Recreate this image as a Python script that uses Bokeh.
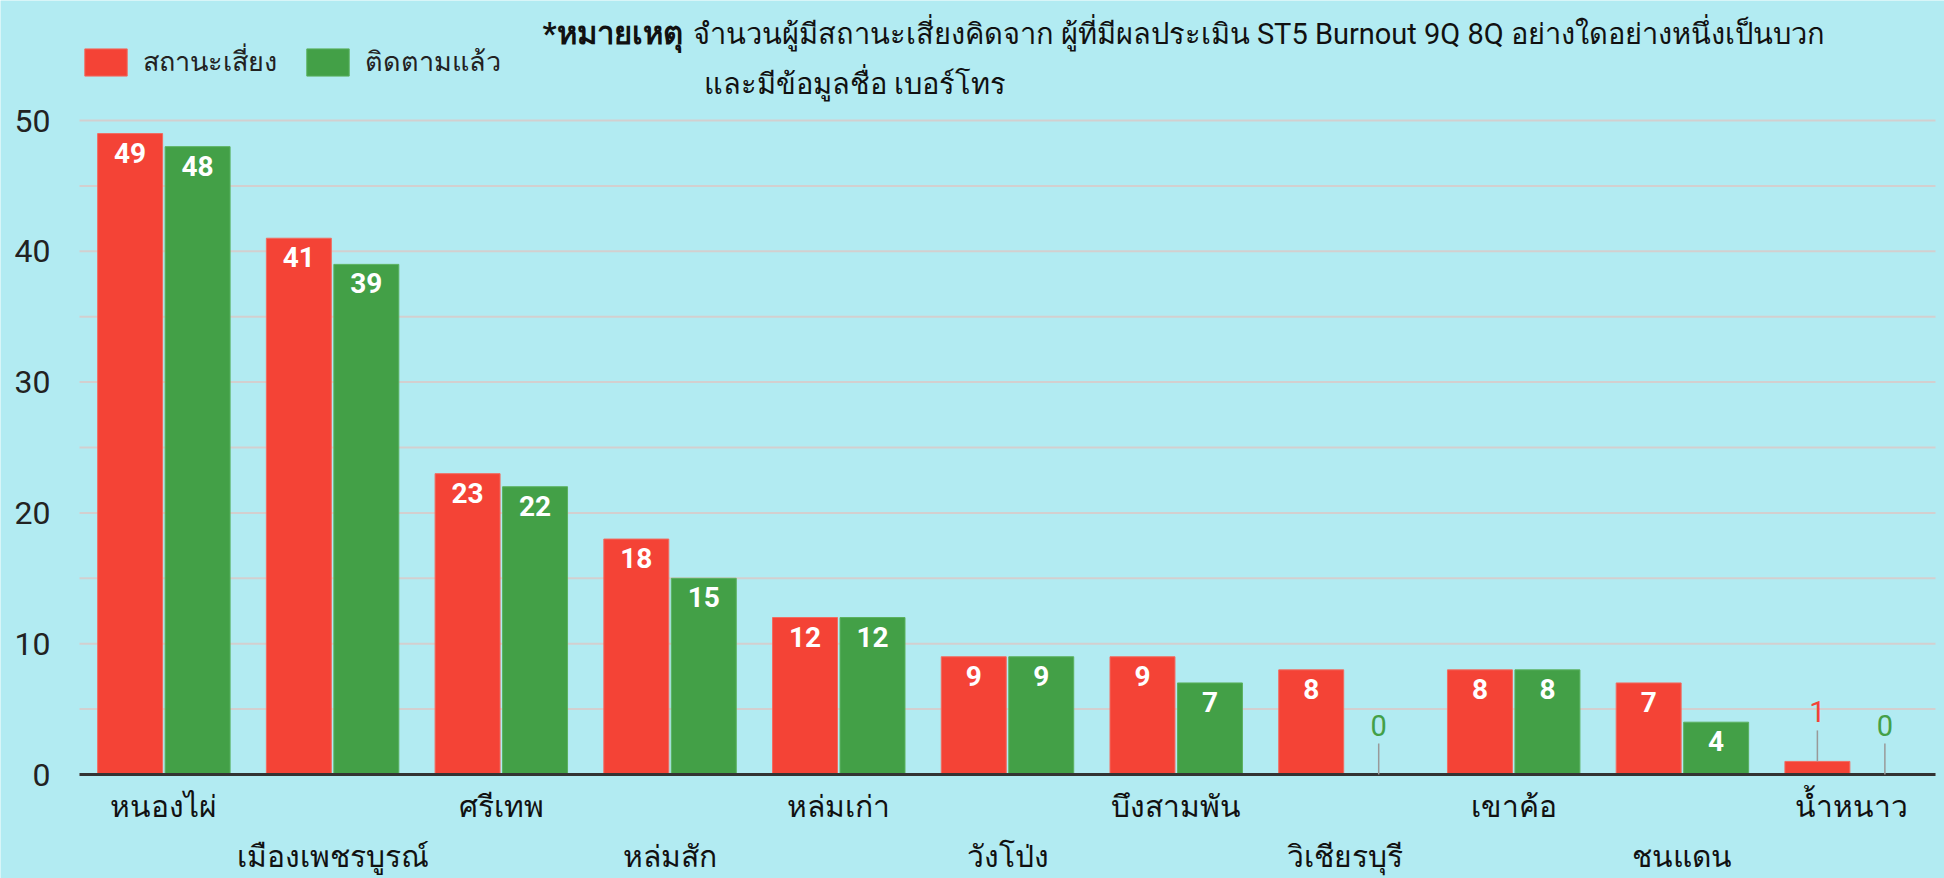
from bokeh.plotting import figure
from bokeh.models import (ColumnDataSource, Range1d, LabelSet, Label, Legend, LegendItem)
from bokeh.core.properties import value
from bokeh.embed import file_html
from bokeh.resources import INLINE

# ---------------- data ----------------
districts = ["หนองไผ่", "เมืองเพชรบูรณ์", "ศรีเทพ", "หล่มสัก", "หล่มเก่า", "วังโป่ง",
             "บึงสามพัน", "วิเชียรบุรี", "เขาค้อ", "ชนแดน", "น้ำหนาว"]
risk = [49, 41, 23, 18, 12, 9, 9, 8, 8, 7, 1]
followed = [48, 39, 22, 15, 12, 9, 7, 0, 8, 4, 0]
series_names = ["สถานะเสี่ยง", "ติดตามแล้ว"]
y_ticks = [0, 10, 20, 30, 40, 50]
title_bold = "*หมายเหตุ"
title_line1 = "จำนวนผู้มีสถานะเสี่ยงคิดจาก ผู้ที่มีผลประเมิน ST5 Burnout 9Q 8Q อย่างใดอย่างหนึ่งเป็นบวก"
title_line2 = "และมีข้อมูลชื่อ เบอร์โทร"

# ---------------- style / layout ----------------
BG = "#b2ebf2"
RED = "#f44336"
GREEN = "#43a047"
FONT = "Roboto"
W, H = 1944, 878
PLOT_LEFT, PLOT_RIGHT = 79, 1935      # pixel extent of plot area
ZERO_Y, TOP_Y = 774, 120              # pixel rows of y=0 and y=50
Y_MAX = 50
OFFS = 0.2
BAR_W = 0.385
STEM_PX = 31
INSIDE_MIN = 3

n = len(districts)
ppx = (PLOT_RIGHT - PLOT_LEFT) / n
ppy = (ZERO_Y - TOP_Y) / Y_MAX
x_range = Range1d(-PLOT_LEFT / ppx, n + (W - PLOT_RIGHT) / ppx)
y_range = Range1d(-(H - ZERO_Y) / ppy, Y_MAX + TOP_Y / ppy)

p = figure(x_range=x_range, y_range=y_range, width=W, height=H,
           min_border=0, output_backend="svg", toolbar_location=None,
           background_fill_color=BG, border_fill_color=BG, outline_line_color=None)
p.xaxis.visible = False
p.yaxis.visible = False
p.xgrid.grid_line_color = None
p.ygrid.grid_line_color = None

centers = [i + 0.5 for i in range(n)]

# grid lines (every 5) across the plot area
grid_y = list(range(0, Y_MAX + 1, 5))
p.segment(x0=[0] * len(grid_y), x1=[n] * len(grid_y), y0=grid_y, y1=grid_y,
          line_color="#d3cfcf", line_width=2)

# y tick labels
ys = ColumnDataSource(dict(x=[0] * len(y_ticks), y=y_ticks, t=[str(t) for t in y_ticks]))
p.add_layout(LabelSet(x="x", y="y", text="t", source=ys, x_offset=-29,
                      text_align="right", text_baseline="middle",
                      text_color="#222222", text_font_size="32px", text_font=value(FONT)))

src = ColumnDataSource(dict(xr=[c - OFFS for c in centers], xg=[c + OFFS for c in centers],
                            risk=risk, followed=followed))
r_red = p.vbar(x="xr", top="risk", width=BAR_W, fill_color=RED, line_color="#f26b60",
               line_width=1, source=src)
r_green = p.vbar(x="xg", top="followed", width=BAR_W, fill_color=GREEN, line_color="#5bb15f",
                 line_width=1, source=src)

# baseline
p.segment(x0=[0], x1=[n], y0=[0], y1=[0], line_color="#333333", line_width=3)

# value labels
stem = STEM_PX / ppy
for vals, off, col in ((risk, -OFFS, RED), (followed, OFFS, GREEN)):
    xs = [c + off for c in centers]
    s_in = ColumnDataSource(dict(x=[x for x, v in zip(xs, vals) if v >= INSIDE_MIN],
                                 v=[v for v in vals if v >= INSIDE_MIN],
                                 t=[str(v) for v in vals if v >= INSIDE_MIN]))
    s_out = ColumnDataSource(dict(x=[x for x, v in zip(xs, vals) if v < INSIDE_MIN],
                                  v=[v for v in vals if v < INSIDE_MIN],
                                  top=[v + stem for v in vals if v < INSIDE_MIN],
                                  t=[str(v) for v in vals if v < INSIDE_MIN]))
    p.add_layout(LabelSet(x="x", y="v", text="t", source=s_in, y_offset=-9,
                          text_baseline="top", text_align="center",
                          text_color="white", text_font_size="28px", text_font=value(FONT),
                          text_font_style="bold"))
    p.segment(x0="x", y0="v", x1="x", y1="top", line_color="#999999", line_width=1.5,
              source=s_out)
    p.add_layout(LabelSet(x="x", y="top", text="t", source=s_out, y_offset=8,
                          text_baseline="bottom", text_align="center",
                          text_color=col, text_font_size="29px", text_font=value(FONT)))

# staggered category labels
row1 = ColumnDataSource(dict(x=centers[0::2], y=[0] * len(centers[0::2]), t=districts[0::2]))
row2 = ColumnDataSource(dict(x=centers[1::2], y=[0] * len(centers[1::2]), t=districts[1::2]))
for s, off in ((row1, -32), (row2, -82)):
    p.add_layout(LabelSet(x="x", y="y", text="t", source=s, y_offset=off,
                          text_baseline="middle", text_align="center",
                          text_color="#111111", text_font_size="30px", text_font=value(FONT)))

# legend
legend = Legend(items=[LegendItem(label=series_names[0], renderers=[r_red]),
                       LegendItem(label=series_names[1], renderers=[r_green])],
                orientation="horizontal", location=(PLOT_LEFT, H - 83),
                glyph_width=53, glyph_height=34, label_standoff=11, spacing=24,
                label_text_font_size="27px", label_text_font=FONT, label_text_color="#222222",
                padding=0, margin=0, border_line_color=None, background_fill_alpha=0)
p.add_layout(legend)

# note / title
p.add_layout(Label(x=542, y=H - 33, x_units="screen", y_units="screen", text=title_bold,
                   text_baseline="middle", text_font_size="31px", text_font=FONT,
                   text_font_style="bold", text_color="#111111"))
p.add_layout(Label(x=692, y=H - 33, x_units="screen", y_units="screen", text=title_line1,
                   text_baseline="middle", text_font_size="29px", text_font=FONT,
                   text_color="#111111"))
p.add_layout(Label(x=703, y=H - 83, x_units="screen", y_units="screen", text=title_line2,
                   text_baseline="middle", text_font_size="29px", text_font=FONT,
                   text_color="#111111"))

open("out.html", "w").write(file_html(p, INLINE))
